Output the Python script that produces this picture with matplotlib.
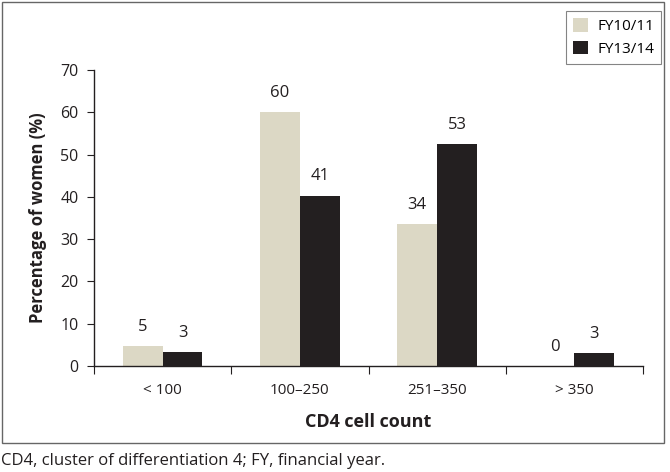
import numpy as np
import matplotlib
matplotlib.use("Agg")
import matplotlib.pyplot as plt
from matplotlib.patches import Rectangle

plt.rcParams['font.family'] = ['Open Sans', 'DejaVu Sans']

# data
categories = ['< 100', '100\u2013250', '251\u2013350', '> 350']
fy1011 = [4.8, 60.0, 33.6, 0.0]
fy1314 = [3.2, 40.3, 52.4, 3.0]
fy1011_labels = ['5', '60', '34', '0']
fy1314_labels = ['3', '41', '53', '3']
series_names = ['FY10/11', 'FY13/14']
colors = ['#DCD8C5', '#231F20']

fig = plt.figure(figsize=(6.7, 4.72), dpi=100)
ax = fig.add_axes([94/670, 1 - 366/472, (643 - 94)/670, (366 - 70)/472])

x = np.arange(len(categories))
w = 0.29
b1 = ax.bar(x - w/2, fy1011, w, color=colors[0], label=series_names[0])
b2 = ax.bar(x + w/2, fy1314, w, color=colors[1], label=series_names[1])

# value labels above bars
for bars, labs in [(b1, fy1011_labels), (b2, fy1314_labels)]:
    for r, lab in zip(bars, labs):
        ax.annotate(lab, (r.get_x() + r.get_width()/2, r.get_height()),
                    xytext=(0, 8), textcoords='offset points',
                    ha='center', va='bottom', fontsize=12, color='#231F20')

ax.set_xlim(-0.5, len(categories) - 0.5)
ax.set_ylim(0, 70)
ax.set_yticks(range(0, 71, 10))

# ticks at group boundaries, labels at centres
ax.set_xticks(np.arange(-0.5, len(categories), 1.0))
ax.set_xticklabels([])
ax.set_xticks(x, minor=True)
ax.set_xticklabels(categories, minor=True)
ax.tick_params(axis='x', which='major', length=6, direction='out', color='#231F20')
ax.tick_params(axis='x', which='minor', length=0, pad=12, labelsize=11, labelcolor='#231F20')
ax.tick_params(axis='y', length=5, direction='out', labelsize=11.5, pad=6,
               color='#231F20', labelcolor='#231F20')

for s in ['top', 'right']:
    ax.spines[s].set_visible(False)
for s in ['left', 'bottom']:
    ax.spines[s].set_color('#231F20')
    ax.spines[s].set_linewidth(1.0)

ax.set_ylabel('Percentage of women (%)', fontsize=12, fontweight='bold',
              color='#231F20', labelpad=10)
ax.set_xlabel('CD4 cell count', fontsize=13, fontweight='bold',
              color='#231F20', labelpad=11)

leg = fig.legend(handles=[b1, b2], loc='upper right',
                 bbox_to_anchor=(661/670, 1 - 11/472), bbox_transform=fig.transFigure,
                 fontsize=11, frameon=True, fancybox=False, borderaxespad=0,
                 handlelength=1.0, handleheight=1.0, handletextpad=0.6,
                 labelspacing=0.45, borderpad=0.45)
leg.get_frame().set_edgecolor('#666666')
leg.get_frame().set_linewidth(0.8)

# outer border around chart area
fig.patches.append(Rectangle((2/670, 1 - 443/472), 662/670, 441/472,
                             transform=fig.transFigure, fill=False,
                             edgecolor='#666666', linewidth=1.0))

fig.text(1/670, 1 - 461/472, 'CD4, cluster of differentiation 4; FY, financial year.',
         fontsize=12, va='center', ha='left', color='#231F20')

plt.savefig('out.png', dpi=100)
